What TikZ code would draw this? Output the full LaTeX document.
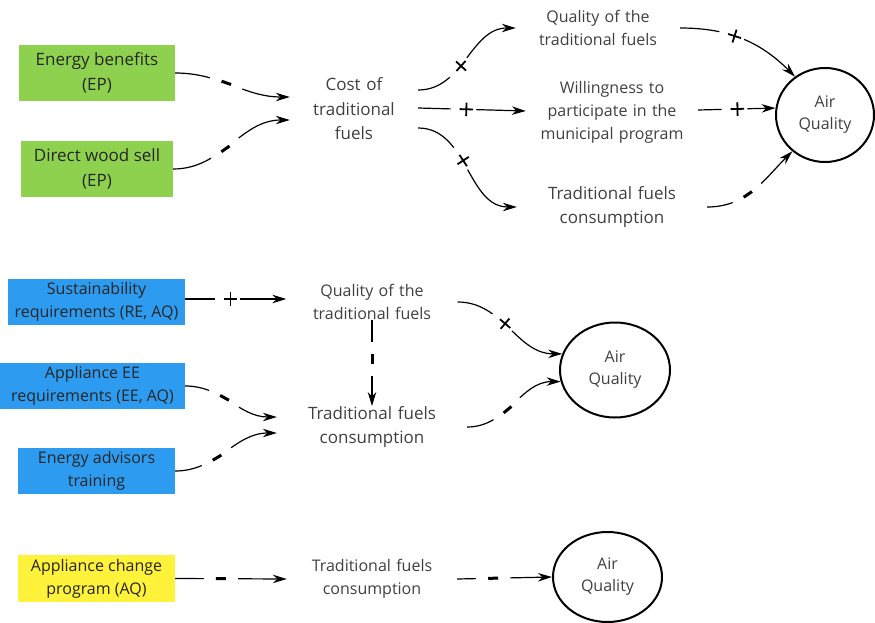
\documentclass[tikz,border=0pt]{standalone}
\usepackage{fontspec}
\setmainfont{Open Sans}
\usetikzlibrary{arrows.meta,shapes.geometric}
\definecolor{epgreen}{HTML}{8ED14F}
\definecolor{reblue}{HTML}{2D9BF0}
\definecolor{aqyellow}{HTML}{FFF23A}
\definecolor{labelgray}{HTML}{404040}
\newcommand{\minussign}{\rule{10pt}{3pt}}
\newcommand{\plussign}{\rlap{\rule[5.9pt]{13.5pt}{1.8pt}}\hspace{5.85pt}\rule{1.8pt}{13.5pt}\hspace{5.85pt}}

\begin{document}
\begin{tikzpicture}[>={Stealth[length=14pt,width=8.5pt]}, x=1pt, y=-1pt,
  box/.style={align=center, inner sep=0pt, text=black!85},
  big/.style={font=\fontsize{17}{24.5}\selectfont},
  small/.style={font=\fontsize{16}{23}\selectfont},
  factor/.style={align=center, inner sep=0pt, text=labelgray},
  air/.style={ellipse, draw, line width=2pt, align=center, inner sep=0pt, text=labelgray, font=\fontsize{16}{22}\selectfont},
  link/.style={->, line width=1.2pt},
  sign/.style={fill=white, inner xsep=9pt, inner ysep=1pt, sloped, pos=0.42},
  neg/.style={sign, inner xsep=12pt}]
\useasboundingbox (0,0) rectangle (875,623);

% energy price
\node[box, big, fill=epgreen, minimum width=156pt, minimum height=56pt] (eb) at (97,73) {Energy benefits\\(EP)};
\node[box, big, fill=epgreen, minimum width=152pt, minimum height=56pt] (dw) at (97,169) {Direct wood sell\\(EP)};
\node[factor, big, text width=128pt] (cost) at (354,109) {Cost of\\traditional\\fuels};
\node[factor, small, text width=164pt] (qual) at (598,28) {Quality of the\\traditional fuels};
\node[factor, small, text width=172pt] (will) at (612,112) {Willingness to\\participate in the\\municipal program};
\node[factor, big, text width=190pt] (cons) at (612,207) {Traditional fuels\\consumption};
\node[air, minimum width=98pt, minimum height=94pt] (air) at (825,115) {Air\\Quality};
\draw[link] (eb.east) to[out=0,in=180] node[neg, pos=0.44]{\minussign} ([yshift=12pt]cost.west);
\draw[link] (dw.east) to[out=0,in=180] node[neg, pos=0.44]{\minussign} ([yshift=-11pt]cost.west);
\draw[link] ([yshift=19pt]cost.east) to[out=0,in=180] node[sign, pos=0.4]{\plussign} (qual.west);
\draw[link] ([yshift=1pt]cost.east) -- node[sign]{\plussign} ([yshift=1pt]will.west);
\draw[link] ([yshift=-19pt]cost.east) to[out=0,in=180] node[sign]{\plussign} (cons.west);
\draw[link] (qual.east) to[out=0,in=135] node[sign, pos=0.4]{\plussign} (air.128);
\draw[link] ([yshift=2pt]will.east) -- node[sign, pos=0.47]{\plussign} (air.172);
\draw[link] (cons.east) to[out=0,in=225] node[neg]{\minussign} (air.228);

% regulation
\node[box, small, fill=reblue, minimum width=177pt, minimum height=46pt] (sust) at (96.5,302) {Sustainability\\requirements (RE, AQ)};
\node[box, small, fill=reblue, minimum width=185pt, minimum height=46pt] (appl) at (92.5,386) {Appliance EE\\requirements (EE, AQ)};
\node[box, small, fill=reblue, minimum width=157pt, minimum height=46pt] (adv) at (96.5,471) {Energy advisors\\training};
\node[factor, small, text width=171pt] (qualb) at (372,302) {Quality of the\\traditional fuels};
\node[factor, big, text width=190pt] (consb) at (372,427) {Traditional fuels\\consumption};
\node[air, minimum width=110pt, minimum height=95pt] (airb) at (615,370) {Air\\Quality};
\draw[link] ([yshift=3pt]sust.east) -- node[sign]{\plussign} ([yshift=3pt]qualb.west);
\draw[link] (appl.east) to[out=0,in=180] node[neg]{\minussign} ([yshift=10pt]consb.west);
\draw[link] (adv.east) to[out=0,in=180] node[neg, pos=0.4]{\minussign} ([yshift=-6pt]consb.west);
\draw[link] (qualb.south) -- node[neg, pos=0.45]{\minussign} (consb.north);
\draw[link] (qualb.east) to[out=0,in=180] node[sign]{\plussign} (airb.163);
\draw[link] (consb.east) to[out=0,in=180] node[neg]{\minussign} (airb.192);

% appliance change
\node[box, small, fill=aqyellow, minimum width=157pt, minimum height=47pt] (chg) at (96.5,578.5) {Appliance change\\program (AQ)};
\node[factor, small, text width=170pt] (consc) at (372,579) {Traditional fuels\\consumption};
\node[air, minimum width=109pt, minimum height=90pt] (airc) at (607.5,577) {Air\\Quality};
\draw[link] (chg.east) -- node[neg, pos=0.41]{\minussign} (consc.west);
\draw[link] (consc.east) -- node[neg, pos=0.38]{\minussign} (airc.west);
\end{tikzpicture}
\end{document}
